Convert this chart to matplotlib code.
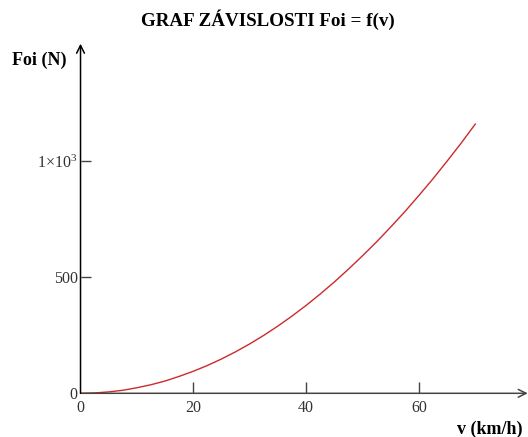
import matplotlib
matplotlib.use("Agg")
import matplotlib.pyplot as plt

plt.rcParams['font.family'] = ['Liberation Serif', 'DejaVu Serif']
plt.rcParams['mathtext.fontset'] = 'stix'

# speed (km/h) and force Foi (N)
v = [0, 2.5, 5, 7.5, 10, 12.5, 15, 17.5, 20, 22.5, 25, 27.5, 30, 32.5, 35,
     37.5, 40, 42.5, 45, 47.5, 50, 52.5, 55, 57.5, 60, 62.5, 65, 67.5, 70]
foi = [0, 1.5, 6, 13, 24, 37, 53, 73, 95, 120, 148, 179, 213, 250, 290,
       333, 379, 428, 480, 535, 593, 653, 717, 783, 853, 925, 1001, 1079, 1161]

x_ticks = [0, 20, 40, 60]
y_ticks = [0, 500, 1000]
y_tick_labels = ['0', '500', r'1×10$^{\mathregular{3}}$']

fig = plt.figure(figsize=(5.28, 4.37), dpi=100)
ax = fig.add_axes([0.1525, 0.1, 0.847, 0.796])

ax.plot(v, foi, color='#cc2a2a', lw=1.0)

ax.set_xlim(0, 79.3)
ax.set_ylim(0, 1500)
for s in ax.spines.values():
    s.set_visible(False)

# axes drawn as arrows, Mathcad style
axis_col = '#444444'
ax.annotate('', xy=(1, 0), xytext=(0, 0), xycoords='axes fraction',
            arrowprops=dict(arrowstyle='->', color=axis_col, lw=1.1,
                            mutation_scale=14, shrinkA=0, shrinkB=0),
            annotation_clip=False)
ax.annotate('', xy=(0, 1.005), xytext=(0, 0), xycoords='axes fraction',
            arrowprops=dict(arrowstyle='->', color='black', lw=1.1,
                            mutation_scale=14, shrinkA=0, shrinkB=0),
            annotation_clip=False)

ax.set_xticks(x_ticks)
ax.set_yticks(y_ticks)
ax.set_yticklabels(y_tick_labels)
ax.tick_params(axis='x', direction='in', length=8, width=1, color=axis_col,
               labelsize=11.5, labelcolor='#333333', pad=5)
ax.tick_params(axis='y', direction='in', length=7, width=1, color=axis_col,
               labelsize=11.5, labelcolor='#333333', pad=2)
ax.yaxis.get_major_ticks()[0].tick1line.set_visible(False)
ax.xaxis.get_major_ticks()[0].tick1line.set_visible(False)

fig.text(0.508, 0.955, 'GRAF ZÁVISLOSTI Foi = f(v)', ha='center', va='center',
         fontsize=13.7, fontweight='bold')
fig.text(0.022, 0.862, 'Foi (N)', ha='left', va='center',
         fontsize=13, fontweight='bold')
fig.text(0.99, 0.017, 'v (km/h)', ha='right', va='center',
         fontsize=13, fontweight='bold')

fig.savefig('out.png', dpi=100)
